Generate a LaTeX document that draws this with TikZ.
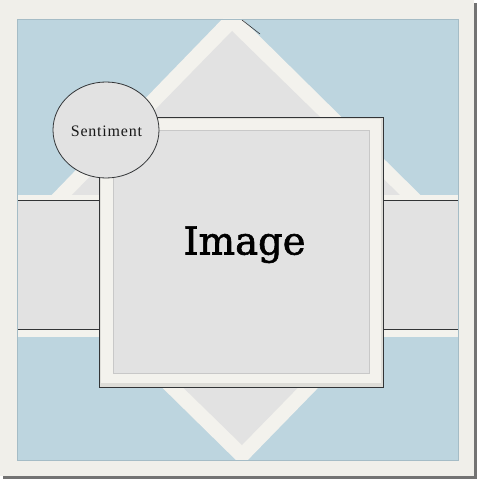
\documentclass[tikz,border=0pt]{standalone}
\usepackage{fontspec}
\setmainfont{Liberation Serif}
\newfontfamily\imgfont[FakeBold=1.6]{DejaVu Serif}
\usetikzlibrary{shapes.geometric}
\definecolor{cardcream}{RGB}{240,239,234}
\definecolor{matcream}{RGB}{243,242,237}
\definecolor{matshade}{RGB}{222,221,216}
\definecolor{paperblue}{RGB}{189,213,223}
\definecolor{blueedge}{RGB}{165,188,198}
\definecolor{panelgrey}{RGB}{226,226,226}
\definecolor{inkline}{RGB}{50,52,54}
\definecolor{softline}{RGB}{200,200,200}
\tikzset{
  inkstroke/.style={draw=inkline, line width=0.9pt},
  panel/.style={fill=panelgrey},
  mat/.style={fill=matcream},
}
\begin{document}
\begin{tikzpicture}[x=1pt,y=-1pt]
\useasboundingbox (0,0) rectangle (484,484);
\fill[white] (0,0) rectangle (484,484);
% card shadow and card
\fill[black!55] (3,3) rectangle (477,479);
\fill[cardcream] (0,0) rectangle (474,476);
% blue paper
\fill[paperblue] (17,19) rectangle (458,460);
\begin{scope}
  \clip (17,19) rectangle (458,460);
  % diamond
  \fill[mat] (232,9) -- (464,238) -- (242,466) -- (10,238) -- cycle;
  \fill[panel] (232,31) -- (444,238) -- (242,445) -- (30,238) -- cycle;
  \draw[inkline, line width=0.6pt] (242,20) -- (260,34);
  % band
  \fill[mat] (17,195) rectangle (458,337);
  \fill[panel] (17,200) rectangle (458,329);
  \draw[inkstroke] (17,200) -- (458,200);
  \draw[inkstroke] (17,329) -- (458,329);
\end{scope}
\draw[blueedge, line width=0.6pt] (17,19) rectangle (458,460);
% image frame
\fill[matshade] (99,117) rectangle (383,387);
\fill[mat] (101,119) rectangle (381,383);
\draw[inkstroke] (99,117) rectangle (383,387);
\node[panel, draw=softline, line width=0.8pt, minimum width=256pt, minimum height=243pt, inner sep=0pt] (imgpanel) at (241,251.5) {};
\node[anchor=base, inner sep=0pt, font=\imgfont\fontsize{38.5}{42}\selectfont, text=black] (imgtext) at (244.5,254.5) {Image};
% sentiment circle
\node[ellipse, fill=panelgrey, draw=inkline, line width=0.8pt, minimum width=106pt, minimum height=96pt, inner sep=0pt] (sentcircle) at (106,130) {};
\node[anchor=base, inner sep=0pt, font=\addfontfeature{LetterSpace=5}\fontsize{16}{18}\selectfont, text=black!90] (senttext) at (106.5,136) {Sentiment};
\end{tikzpicture}
\end{document}
